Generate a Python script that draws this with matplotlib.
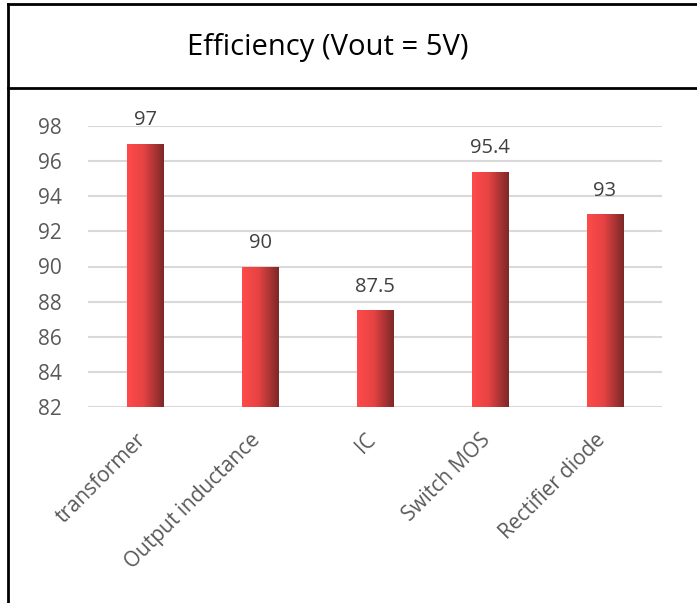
import numpy as np
import matplotlib.pyplot as plt
import matplotlib.transforms as mtrans
from matplotlib.colors import LinearSegmentedColormap
from matplotlib.lines import Line2D

plt.rcParams['font.family'] = ['Open Sans', 'DejaVu Sans']

# data
categories = ["transformer", "Output inductance", "IC", "Switch MOS", "Rectifier diode"]
efficiency = [97, 90, 87.5, 95.4, 93]
value_labels = ["97", "90", "87.5", "95.4", "93"]
yticks = [82, 84, 86, 88, 90, 92, 94, 96, 98]

fig = plt.figure(figsize=(6.97, 6.03), dpi=100)
ax = fig.add_axes([88 / 697, 1 - 407 / 603, 574 / 697, 281 / 603])

x = np.arange(len(categories))
bars = ax.bar(x, efficiency, width=0.315, bottom=0, color="none", zorder=3)

# horizontal gradient in each bar
cmap = LinearSegmentedColormap.from_list(
    "redgrad", [(0, "#FF4A4A"), (0.45, "#E64343"), (1, "#7C2828")])
grad = np.linspace(0, 1, 256).reshape(1, -1)
for b in bars:
    x0, w = b.get_x(), b.get_width()
    im = ax.imshow(grad, cmap=cmap, aspect="auto", zorder=3,
                   extent=[x0, x0 + w, 82, b.get_height()])
    im.set_clip_path(b)

for xi, v, lab in zip(x, efficiency, value_labels):
    ax.text(xi, v + 0.75, lab, ha="center", va="bottom", fontsize=14.5,
            color="#404040", clip_on=False)

ax.set_xlim(-0.5, len(categories) - 0.5)
ax.set_ylim(82, 98)
ax.set_yticks(yticks)
ax.set_yticklabels([str(t) for t in yticks], fontsize=15, color="#595959")
ax.set_xticks(x)
ax.set_xticklabels(categories, rotation=45, ha="right", rotation_mode="anchor",
                   fontsize=15, color="#595959")
ax.tick_params(axis="both", length=0)
ax.tick_params(axis="y", pad=19)
ax.tick_params(axis="x", pad=16)
shift = mtrans.ScaledTranslation(-0.1, 0, fig.dpi_scale_trans)
for lbl in ax.get_xticklabels():
    lbl.set_transform(lbl.get_transform() + shift)
ax.grid(axis="y", color="#D9D9D9", linewidth=1.5, zorder=0)
ax.set_axisbelow(True)
for s in ax.spines.values():
    s.set_visible(False)

# frame lines and title
fig.add_artist(Line2D([8 / 697, 8 / 697], [0, 1 - 4 / 603], color="black", lw=2))
fig.add_artist(Line2D([8 / 697, 1], [1 - 4 / 603, 1 - 4 / 603], color="black", lw=2))
fig.add_artist(Line2D([8 / 697, 1], [1 - 88 / 603, 1 - 88 / 603], color="black", lw=2))
fig.text(328 / 697, 1 - 48 / 603, "Efficiency (Vout = 5V)", ha="center", va="center",
         fontsize=21, color="black")

fig.savefig("out.png", dpi=100, facecolor="white")
